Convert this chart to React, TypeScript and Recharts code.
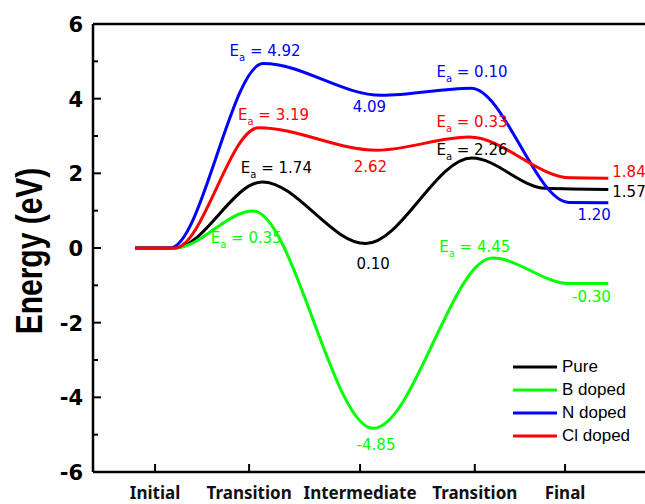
import React from 'react';
import { LineChart, Line, XAxis, YAxis, ReferenceLine, ReferenceDot, Legend } from 'recharts';

// reaction coordinate positions of the labelled states
const xTickValues = [1, 2, 3.18, 4.4, 5.36];
const xTickLabels = ['Initial', 'Transition', 'Intermediate', 'Transition', 'Final'];
const yTickValues = [-6, -5, -4, -3, -2, -1, 0, 1, 2, 3, 4, 5, 6];

// energy profiles: [reaction coordinate, energy eV]
const pure: [number, number][] = [
  [0.79, 0], [1.21, 0], [2.14, 1.77], [3.24, 0.12], [4.37, 2.41],
  [5.15, 1.6], [5.82, 1.57],
];
const bDoped: [number, number][] = [
  [0.79, 0], [1.21, 0], [2.04, 0.99], [3.32, -4.83],
  [4.59, -0.27], [5.4, -0.95], [5.82, -0.95],
];
const nDoped: [number, number][] = [
  [0.79, 0], [1.16, 0], [2.15, 4.94], [3.41, 4.09],
  [4.36, 4.28], [5.4, 1.22], [5.82, 1.21],
];
const clDoped: [number, number][] = [
  [0.79, 0], [1.21, 0], [2.1, 3.22], [3.36, 2.62],
  [4.34, 2.97], [5.42, 1.88], [5.82, 1.87],
];

const seriesNames = ['Pure', 'B doped', 'N doped', 'Cl doped'];
const seriesColors = ['#000000', '#00ff00', '#0000ff', '#ff0000'];
const seriesPoints = [pure, bDoped, nDoped, clDoped];

// activation energy labels: [x, y, value, series index]
const eaLabels: [number, number, string, number][] = [
  [2.17, 5.14, '4.92', 2],
  [2.26, 3.43, '3.19', 3],
  [2.29, 2.01, '1.74', 0],
  [1.97, 0.13, '0.35', 1],
  [4.37, 4.58, '0.10', 2],
  [4.37, 3.24, '0.33', 3],
  [4.37, 2.49, '2.26', 0],
  [4.4, -0.11, '4.45', 1],
];

// energy level labels: [x, y, value, series index]
const levelLabels: [number, number, string, number][] = [
  [3.28, 3.64, '4.09', 2],
  [3.29, 2.04, '2.62', 3],
  [3.32, -0.56, '0.10', 0],
  [3.35, -5.41, '-4.85', 1],
  [6.04, 1.9, '1.84', 3],
  [6.04, 1.37, '1.57', 0],
  [5.67, 0.75, '1.20', 2],
  [5.64, -1.45, '-0.30', 1],
];

const ANNO_FONT = '"DejaVu Sans", Verdana, sans-serif';

function YTick(props: any) {
  const { x, y, payload } = props;
  const v = payload.value;
  const major = v % 2 === 0;
  return (
    <g>
      <line x1={x} x2={x + (major ? 8 : 5)} y1={y} y2={y} stroke="#000" strokeWidth={2} />
      {major && (
        <text
          x={x - 10}
          y={y + 8}
          textAnchor="end"
          fontFamily={ANNO_FONT}
          fontWeight="bold"
          fontSize={21}
          fill="#000"
        >
          {v}
        </text>
      )}
    </g>
  );
}

function XTick(props: any) {
  const { x, y, payload } = props;
  const label = xTickLabels[xTickValues.indexOf(payload.value)];
  return (
    <g>
      <line x1={x} x2={x} y1={y} y2={y - 8} stroke="#000" strokeWidth={2} />
      <text
        x={x}
        y={y + 27}
        textAnchor="middle"
        fontFamily='"Noto Sans", "Open Sans", sans-serif'
        fontWeight="bold"
        fontSize={17}
        fill="#111"
      >
        {label}
      </text>
    </g>
  );
}

function center(p: any) {
  const vb = p.viewBox || {};
  return { cx: vb.x + (vb.width || 0) / 2, cy: vb.y + (vb.height || 0) / 2 };
}

function renderEa(value: string, color: string) {
  return (p: any) => {
    const { cx, cy } = center(p);
    return (
      <text x={cx} y={cy} textAnchor="middle" fontFamily={ANNO_FONT} fontSize={15} fill={color}>
        <tspan>E</tspan>
        <tspan dy={5} fontSize={10}>a</tspan>
        <tspan dy={-5}>{` = ${value}`}</tspan>
      </text>
    );
  };
}

function renderLevel(value: string, color: string) {
  return (p: any) => {
    const { cx, cy } = center(p);
    return (
      <text x={cx} y={cy} textAnchor="middle" fontFamily={ANNO_FONT} fontSize={15} fill={color}>
        {value}
      </text>
    );
  };
}

function YLabel(p: any) {
  const vb = p.viewBox || { x: 0, y: 24, height: 448 };
  const cy = vb.y + vb.height / 2 + 3;
  return (
    <text
      transform={`translate(42 ${cy}) scale(1.25 1) rotate(-90)`}
      textAnchor="middle"
      fontFamily='"Liberation Sans", Arial, sans-serif'
      fontWeight="bold"
      fontSize={30}
      fill="#000"
    >
      Energy (eV)
    </text>
  );
}

function LegendBox() {
  return (
    <div>
      {seriesNames.map((name, i) => (
        <div key={name} style={{ display: 'flex', alignItems: 'center', height: 23 }}>
          <svg width={44} height={4} style={{ display: 'block' }}>
            <line x1={0} x2={44} y1={2} y2={2} stroke={seriesColors[i]} strokeWidth={3} />
          </svg>
          <span
            style={{
              marginLeft: 5,
              fontFamily: '"Liberation Sans", Arial, sans-serif',
              fontSize: 17,
              color: '#000',
              lineHeight: '23px',
            }}
          >
            {name}
          </span>
        </div>
      ))}
    </div>
  );
}

export default function App() {
  return (
    <div style={{ position: 'absolute', left: 0, top: 0, background: '#fff' }}>
      <LineChart width={645} height={504} margin={{ top: 24, right: 0, bottom: 0, left: 0 }}>
        <XAxis
          dataKey="x"
          type="number"
          domain={[0.34, 6.21]}
          ticks={xTickValues}
          interval={0}
          allowDataOverflow
          height={32}
          tickSize={0}
          tickMargin={0}
          tickLine={false}
          axisLine={{ stroke: '#000', strokeWidth: 2.5 }}
          tick={<XTick />}
        />
        <YAxis
          type="number"
          domain={[-6, 6]}
          ticks={yTickValues}
          interval={0}
          width={93}
          tickSize={0}
          tickMargin={0}
          tickLine={false}
          axisLine={{ stroke: '#000', strokeWidth: 2.5 }}
          tick={<YTick />}
          label={{ content: YLabel }}
        />
        <ReferenceLine y={6} stroke="#000" strokeWidth={2.5} />
        {seriesPoints.map((pts, i) => (
          <Line
            key={seriesNames[i]}
            name={seriesNames[i]}
            data={pts.map(([x, y]) => ({ x, y }))}
            dataKey="y"
            type="monotone"
            stroke={seriesColors[i]}
            strokeWidth={3}
            dot={false}
            activeDot={false}
            isAnimationActive={false}
          />
        ))}
        {eaLabels.map(([x, y, v, s], i) => (
          <ReferenceDot
            key={`ea${i}`}
            x={x}
            y={y}
            r={0}
            fill="none"
            stroke="none"
            label={renderEa(v, seriesColors[s])}
          />
        ))}
        {levelLabels.map(([x, y, v, s], i) => (
          <ReferenceDot
            key={`lv${i}`}
            x={x}
            y={y}
            r={0}
            fill="none"
            stroke="none"
            label={renderLevel(v, seriesColors[s])}
          />
        ))}
        <Legend
          layout="vertical"
          align="center"
          verticalAlign="middle"
          content={<LegendBox />}
          wrapperStyle={{ position: 'absolute', left: 513, top: 355, width: 130, height: 92 }}
        />
      </LineChart>
    </div>
  );
}
